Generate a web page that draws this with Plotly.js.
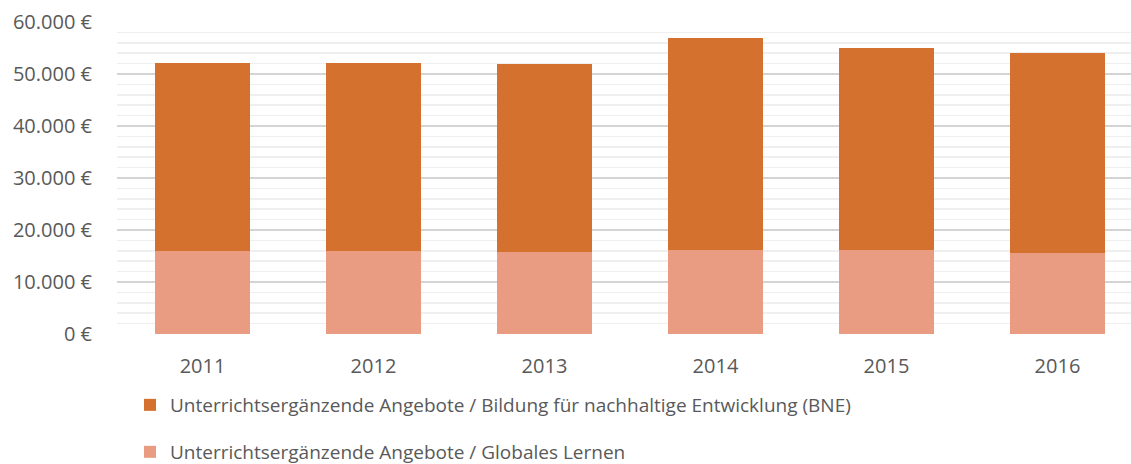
<!DOCTYPE html>
<html>
<head>
<meta charset="utf-8">
<script src="https://cdn.plot.ly/plotly-3.0.1.min.js"></script>
<style>html,body{margin:0;padding:0;overflow:hidden;background:#fff}</style>
</head>
<body>
<div id="chart" style="width:1131px;height:464px"></div>
<script>
const years = ['2011', '2012', '2013', '2014', '2015', '2016'];
const globalesLernen = [15950, 15950, 15850, 16080, 16140, 15620];
const bne = [36100, 36100, 36150, 40790, 38940, 38510];
const nameBNE = 'Unterrichtsergänzende Angebote / Bildung für nachhaltige Entwicklung (BNE)';
const nameGL = 'Unterrichtsergänzende Angebote / Globales Lernen';
const yTickVals = [0, 10000, 20000, 30000, 40000, 50000, 60000];
const yTickText = ['0 €', '10.000 €', '20.000 €', '30.000 €', '40.000 €', '50.000 €', '60.000 €'];

const traces = [
  {type: 'bar', x: years, y: globalesLernen, name: nameGL, legend: 'legend2',
   marker: {color: '#E99C82', line: {width: 0}}, hoverinfo: 'y'},
  {type: 'bar', x: years, y: bne, name: nameBNE, legend: 'legend',
   marker: {color: '#D5712F', line: {width: 0}}, hoverinfo: 'y'}
];

const font = {family: 'Open Sans, Liberation Sans, sans-serif', color: '#595959'};
const layout = {
  width: 1131, height: 464,
  margin: {l: 117, r: 0, t: 22, b: 130, autoexpand: false},
  barmode: 'stack', bargap: 0.445,
  paper_bgcolor: '#fff', plot_bgcolor: '#fff',
  font: font,
  showlegend: true,
  xaxis: {
    type: 'category', range: [-0.5, 5.43],
    showgrid: false, zeroline: false, showline: false,
    ticks: '', ticklabelstandoff: 18,
    tickfont: {size: 20, color: '#595959'}
  },
  yaxis: {
    range: [0, 60000],
    showgrid: true, gridcolor: '#d4d4d4', gridwidth: 1.5,
    zeroline: false, showline: false, ticks: '',
    ticklabelstandoff: 24,
    tickvals: yTickVals,
    ticktext: yTickText,
    tickfont: {size: 20, color: '#595959'},
    minor: {dtick: 2000, tick0: 0, showgrid: true, gridcolor: '#efefef', gridwidth: 1.5}
  },
  legend: {
    x: 130 / 1131, xref: 'container', xanchor: 'left',
    y: (464 - 405) / 464, yref: 'container', yanchor: 'middle',
    font: {size: 19, color: '#595959'}, bgcolor: 'rgba(0,0,0,0)',
    itemwidth: 30
  },
  legend2: {
    x: 130 / 1131, xref: 'container', xanchor: 'left',
    y: (464 - 452) / 464, yref: 'container', yanchor: 'middle',
    font: {size: 19, color: '#595959'}, bgcolor: 'rgba(0,0,0,0)',
    itemwidth: 30
  }
};

Plotly.newPlot('chart', traces, layout, {displayModeBar: false, staticPlot: true});
</script>
</body>
</html>
